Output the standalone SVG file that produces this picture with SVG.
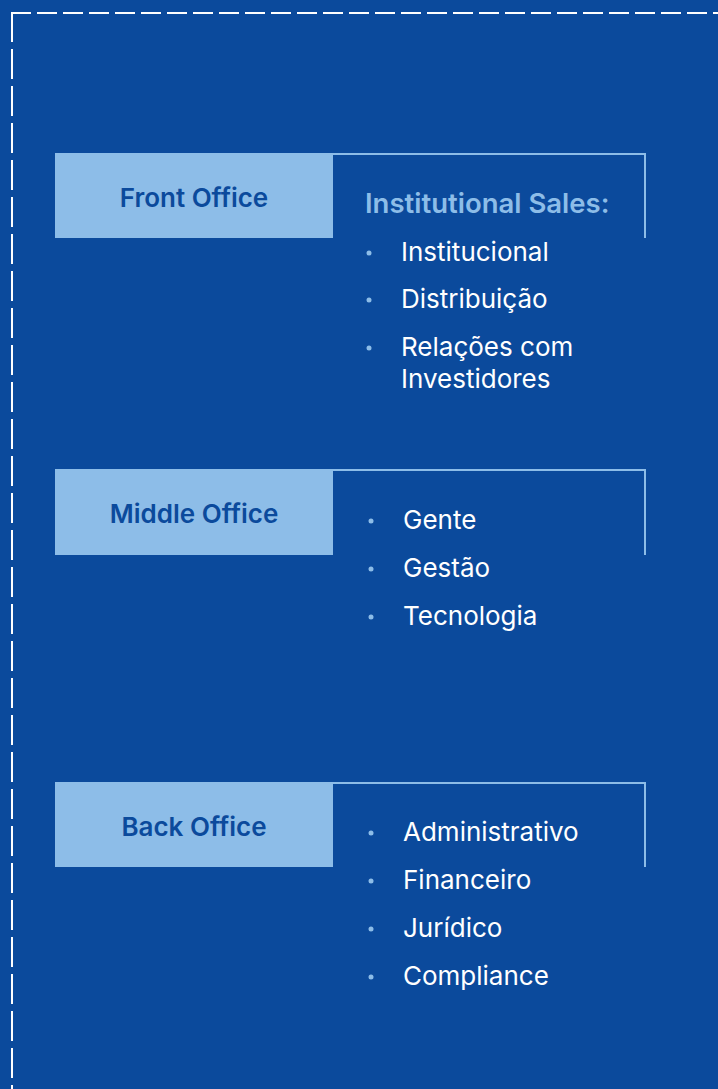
<svg xmlns="http://www.w3.org/2000/svg" width="718" height="1089" viewBox="0 0 718 1089">
<style>
.bg{fill:#0b4a9c}
.lbl{fill:#8dbde8}
.frame{fill:none;stroke:#8dbde8;stroke-width:2}
.title{font-family:Inter,"Noto Sans",sans-serif;font-weight:600;font-size:26px;fill:#0b4a9c;text-anchor:middle}
.head{font-family:Inter,"Noto Sans",sans-serif;font-weight:600;font-size:27.5px;fill:#8dbde8}
.item{font-family:Inter,"Noto Sans",sans-serif;font-weight:400;font-size:26px;fill:#ffffff}
.dot{fill:#8dbde8}
.border{stroke:#ffffff;stroke-width:2;fill:none}
</style>
<rect class="bg" x="0" y="0" width="718" height="1089"/>
<line class="border" x1="11" y1="13" x2="718" y2="13" stroke-dasharray="20 6"/>
<line class="border" x1="12" y1="12" x2="12" y2="1089" stroke-dasharray="30 7"/>

<g id="front-office">
<rect class="lbl" x="55" y="153" width="278" height="85"/>
<polyline class="frame" points="333,154 645,154 645,238"/>
<text class="title" x="194" y="207">Front Office</text>
<text class="head" x="365" y="213">Institutional Sales:</text>
<circle class="dot" cx="369" cy="253" r="2.5"/>
<text class="item" x="401" y="261">Institucional</text>
<circle class="dot" cx="369" cy="300" r="2.5"/>
<text class="item" x="401" y="308">Distribuição</text>
<circle class="dot" cx="369" cy="348" r="2.5"/>
<text class="item" x="401" y="356">Relações com</text>
<text class="item" x="401" y="388">Investidores</text>
</g>

<g id="middle-office">
<rect class="lbl" x="55" y="469" width="278" height="86"/>
<polyline class="frame" points="333,470 645,470 645,555"/>
<text class="title" x="194" y="523">Middle Office</text>
<circle class="dot" cx="371" cy="521" r="2.5"/>
<text class="item" x="403" y="529">Gente</text>
<circle class="dot" cx="371" cy="569" r="2.5"/>
<text class="item" x="403" y="577">Gestão</text>
<circle class="dot" cx="371" cy="617" r="2.5"/>
<text class="item" x="403" y="625">Tecnologia</text>
</g>

<g id="back-office">
<rect class="lbl" x="55" y="782" width="278" height="85"/>
<polyline class="frame" points="333,783 645,783 645,867"/>
<text class="title" x="194" y="836">Back Office</text>
<circle class="dot" cx="371" cy="833" r="2.5"/>
<text class="item" x="403" y="841">Administrativo</text>
<circle class="dot" cx="371" cy="881" r="2.5"/>
<text class="item" x="403" y="889">Financeiro</text>
<circle class="dot" cx="371" cy="929" r="2.5"/>
<text class="item" x="403" y="937">Jurídico</text>
<circle class="dot" cx="371" cy="977" r="2.5"/>
<text class="item" x="403" y="985">Compliance</text>
</g>
<g id="connectors"/>
</svg>
